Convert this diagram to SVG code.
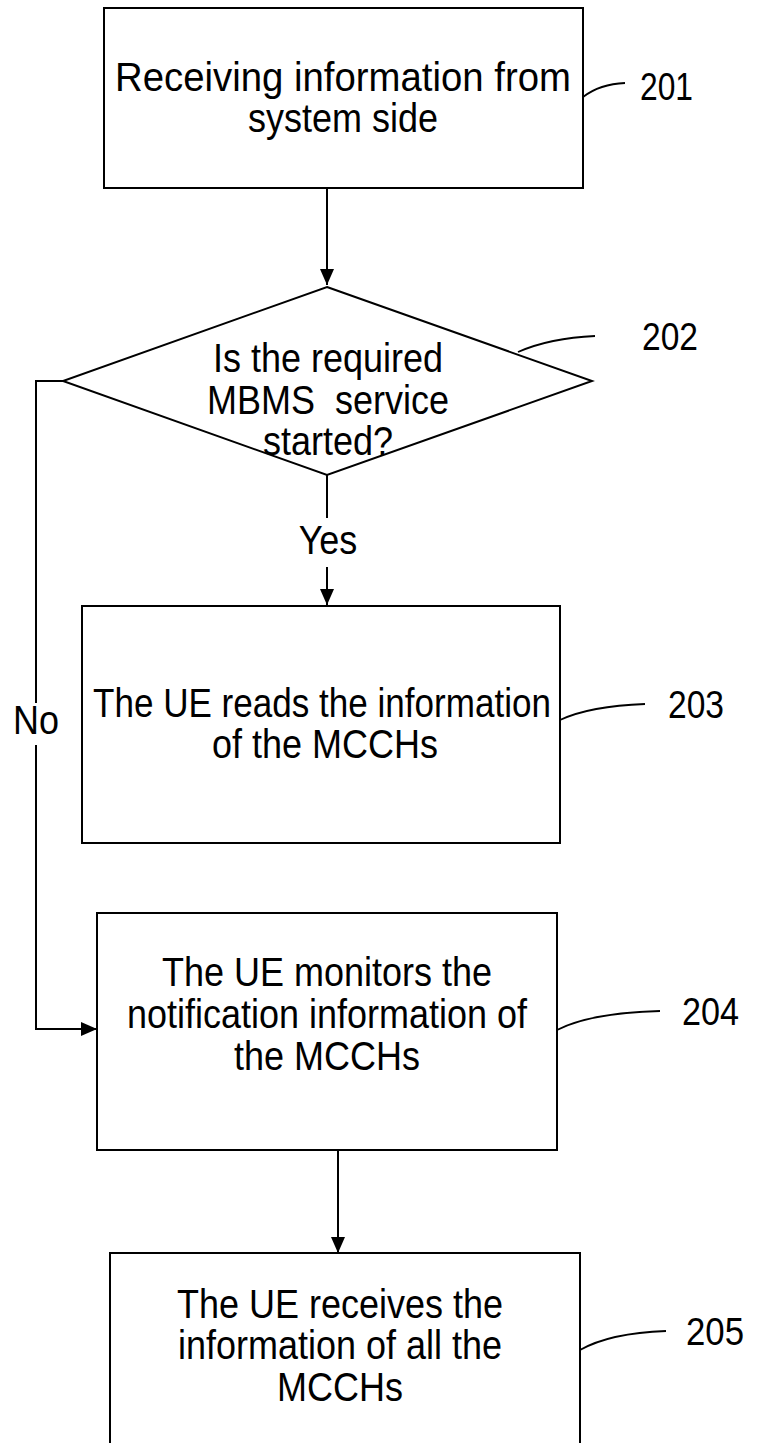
<svg xmlns="http://www.w3.org/2000/svg" width="762" height="1443" viewBox="0 0 762 1443">
<style>
.box{fill:#fff;stroke:#000;stroke-width:2}
.t{font-family:"Liberation Sans",Arial,sans-serif;font-size:36px;fill:#000;text-anchor:middle}
.lbl{font-family:"Liberation Sans",Arial,sans-serif;font-size:34px;fill:#000}
.ln{fill:none;stroke:#000;stroke-width:2}
.ld{fill:none;stroke:#000;stroke-width:1.8}
</style>
<defs>
<marker id="ah" markerUnits="userSpaceOnUse" markerWidth="16" markerHeight="14" refX="16" refY="7" orient="auto">
<path d="M0,0 L16,7 L0,14 z" fill="#000"/>
</marker>
</defs>
<rect width="762" height="1443" fill="#fff"/>
<g id="connectors">
<path class="ln" d="M327,188 V285" marker-end="url(#ah)"/>
<path class="ln" d="M327,475 V518"/>
<path class="ln" d="M327,567 V605" marker-end="url(#ah)"/>
<path class="ln" d="M63,381 H36 V703"/>
<path class="ln" d="M36,745 V1029 H97" marker-end="url(#ah)"/>
<path class="ln" d="M338,1150 V1253" marker-end="url(#ah)"/>
<text class="t" transform="translate(328,554) scale(1,1.12)">Yes</text>
<text class="t" transform="translate(36,734) scale(1,1.12)">No</text>
</g>
<g id="n201">
<rect class="box" x="104" y="8" width="479" height="180"/>
<text class="t" transform="translate(343,91) scale(1,1.12)" textLength="456" lengthAdjust="spacingAndGlyphs">Receiving information from</text>
<text class="t" transform="translate(343,132) scale(1,1.12)">system side</text>
<path class="ld" d="M583,97 Q600,84 625,83"/>
<text class="lbl" transform="translate(640,100) scale(1,1.12)" textLength="53" lengthAdjust="spacingAndGlyphs">201</text>
</g>
<g id="n202">
<polygon class="box" points="327,287 592,381 327,475 63,381"/>
<text class="t" transform="translate(328,372) scale(1,1.12)">Is the required</text>
<text class="t" transform="translate(328,414) scale(1,1.12)" xml:space="preserve">MBMS  service</text>
<text class="t" transform="translate(328,455) scale(1,1.12)">started?</text>
<path class="ld" d="M518,352 Q550,338 595,336"/>
<text class="lbl" transform="translate(642,350) scale(1,1.12)" textLength="56" lengthAdjust="spacingAndGlyphs">202</text>
</g>
<g id="n203">
<rect class="box" x="82" y="606" width="478" height="237"/>
<text class="t" transform="translate(322,717) scale(1,1.12)" textLength="458" lengthAdjust="spacingAndGlyphs">The UE reads the information</text>
<text class="t" transform="translate(325,758) scale(1,1.12)">of the MCCHs</text>
<path class="ld" d="M560,720 Q590,706 645,704"/>
<text class="lbl" transform="translate(668,718) scale(1,1.12)" textLength="56" lengthAdjust="spacingAndGlyphs">203</text>
</g>
<g id="n204">
<rect class="box" x="97" y="913" width="460" height="237"/>
<text class="t" transform="translate(327,986) scale(1,1.12)">The UE monitors the</text>
<text class="t" transform="translate(327,1028) scale(1,1.12)" textLength="400" lengthAdjust="spacingAndGlyphs">notification information of</text>
<text class="t" transform="translate(327,1070) scale(1,1.12)">the MCCHs</text>
<path class="ld" d="M557,1030 Q590,1013 660,1011"/>
<text class="lbl" transform="translate(682,1025) scale(1,1.12)" textLength="57" lengthAdjust="spacingAndGlyphs">204</text>
</g>
<g id="n205">
<rect class="box" x="110" y="1253" width="470" height="210"/>
<text class="t" transform="translate(340,1318) scale(1,1.12)">The UE receives the</text>
<text class="t" transform="translate(340,1359) scale(1,1.12)">information of all the</text>
<text class="t" transform="translate(340,1401) scale(1,1.12)">MCCHs</text>
<path class="ld" d="M580,1350 Q610,1333 666,1331"/>
<text class="lbl" transform="translate(686,1345) scale(1,1.12)" textLength="58" lengthAdjust="spacingAndGlyphs">205</text>
</g>
</svg>
